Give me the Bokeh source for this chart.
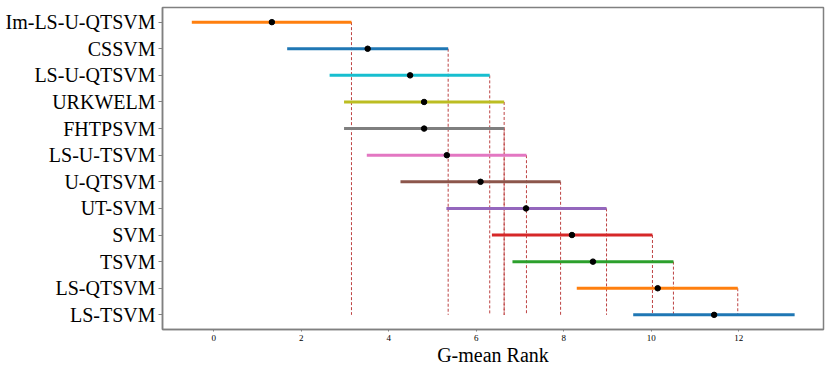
from bokeh.plotting import figure
from bokeh.models import ColumnDataSource, Range1d, FixedTicker
from bokeh.embed import file_html
from bokeh.resources import INLINE

names = ["Im-LS-U-QTSVM", "CSSVM", "LS-U-QTSVM", "URKWELM", "FHTPSVM", "LS-U-TSVM",
         "U-QTSVM", "UT-SVM", "SVM", "TSVM", "LS-QTSVM", "LS-TSVM"]
mean_rank = [1.33, 3.52, 4.49, 4.81, 4.81, 5.33, 6.10, 7.14, 8.19, 8.67, 10.15, 11.44]
lower = [-0.50, 1.68, 2.65, 2.98, 2.98, 3.50, 4.27, 5.32, 6.36, 6.83, 8.30, 9.59]
upper = [3.15, 5.36, 6.31, 6.64, 6.64, 7.15, 7.93, 8.98, 10.03, 10.51, 11.98, 13.28]
colors = ["#ff7f0e", "#1f77b4", "#17becf", "#bcbd22", "#7f7f7f", "#e377c2",
          "#8c564b", "#9467bd", "#d62728", "#2ca02c", "#ff7f0e", "#1f77b4"]
x_ticks = [0, 2, 4, 6, 8, 10, 12]

n = len(names)
ypos = list(range(n - 1, -1, -1))

FONT = "Liberation Serif"
GRAY = "#808080"

p = figure(width=828, height=372, output_backend="svg", toolbar_location=None,
           x_range=Range1d(-1.17, 13.94), y_range=Range1d(-0.55, 11.55),
           min_border_left=162, min_border_right=5, min_border_top=7, min_border_bottom=43)

p.xgrid.visible = False
p.ygrid.visible = False
p.outline_line_color = GRAY
p.outline_line_width = 1.5
p.background_fill_color = "white"
p.border_fill_color = "white"

src = ColumnDataSource(dict(name=names, y=ypos, lo=lower, hi=upper, m=mean_rank, color=colors))
dsrc = ColumnDataSource(dict(x=upper[:-1], y0=ypos[:-1], y1=[ypos[-1]] * (n - 1)))

p.segment(x0="x", y0="y0", x1="x", y1="y1", source=dsrc, line_color="#b22222",
          line_alpha=0.85, line_width=1, line_dash="3 2")
p.segment(x0="lo", y0="y", x1="hi", y1="y", source=src, line_color="color",
          line_width=3, line_cap="butt")
p.scatter(x="m", y="y", source=src, size=5.5, fill_color="black", line_color="black")

# y axis
p.yaxis.ticker = FixedTicker(ticks=ypos)
p.yaxis.major_label_overrides = {y: nm for y, nm in zip(ypos, names)}
p.yaxis.major_label_text_font = FONT
p.yaxis.major_label_text_font_size = "20px"
p.yaxis.major_label_text_color = "black"
p.yaxis.major_tick_out = 4
p.yaxis.major_tick_in = 0
p.yaxis.minor_tick_line_color = None
p.yaxis.major_label_standoff = 3
p.yaxis.axis_line_color = GRAY
p.yaxis.axis_line_width = 1.5
p.yaxis.major_tick_line_color = GRAY

# x axis
p.xaxis.ticker = FixedTicker(ticks=x_ticks)
p.xaxis.major_label_text_font = FONT
p.xaxis.major_label_text_font_size = "9px"
p.xaxis.major_label_text_color = "black"
p.xaxis.major_tick_out = 2
p.xaxis.major_tick_in = 0
p.xaxis.minor_tick_line_color = None
p.xaxis.major_label_standoff = 3
p.xaxis.axis_line_color = GRAY
p.xaxis.axis_line_width = 1.5
p.xaxis.major_tick_line_color = GRAY
p.xaxis.axis_label = "G-mean Rank"
p.xaxis.axis_label_text_font = FONT
p.xaxis.axis_label_text_font_size = "20px"
p.xaxis.axis_label_text_font_style = "normal"
p.xaxis.axis_label_text_color = "black"
p.xaxis.axis_label_standoff = 0

open("out.html", "w").write(file_html(p, INLINE))
